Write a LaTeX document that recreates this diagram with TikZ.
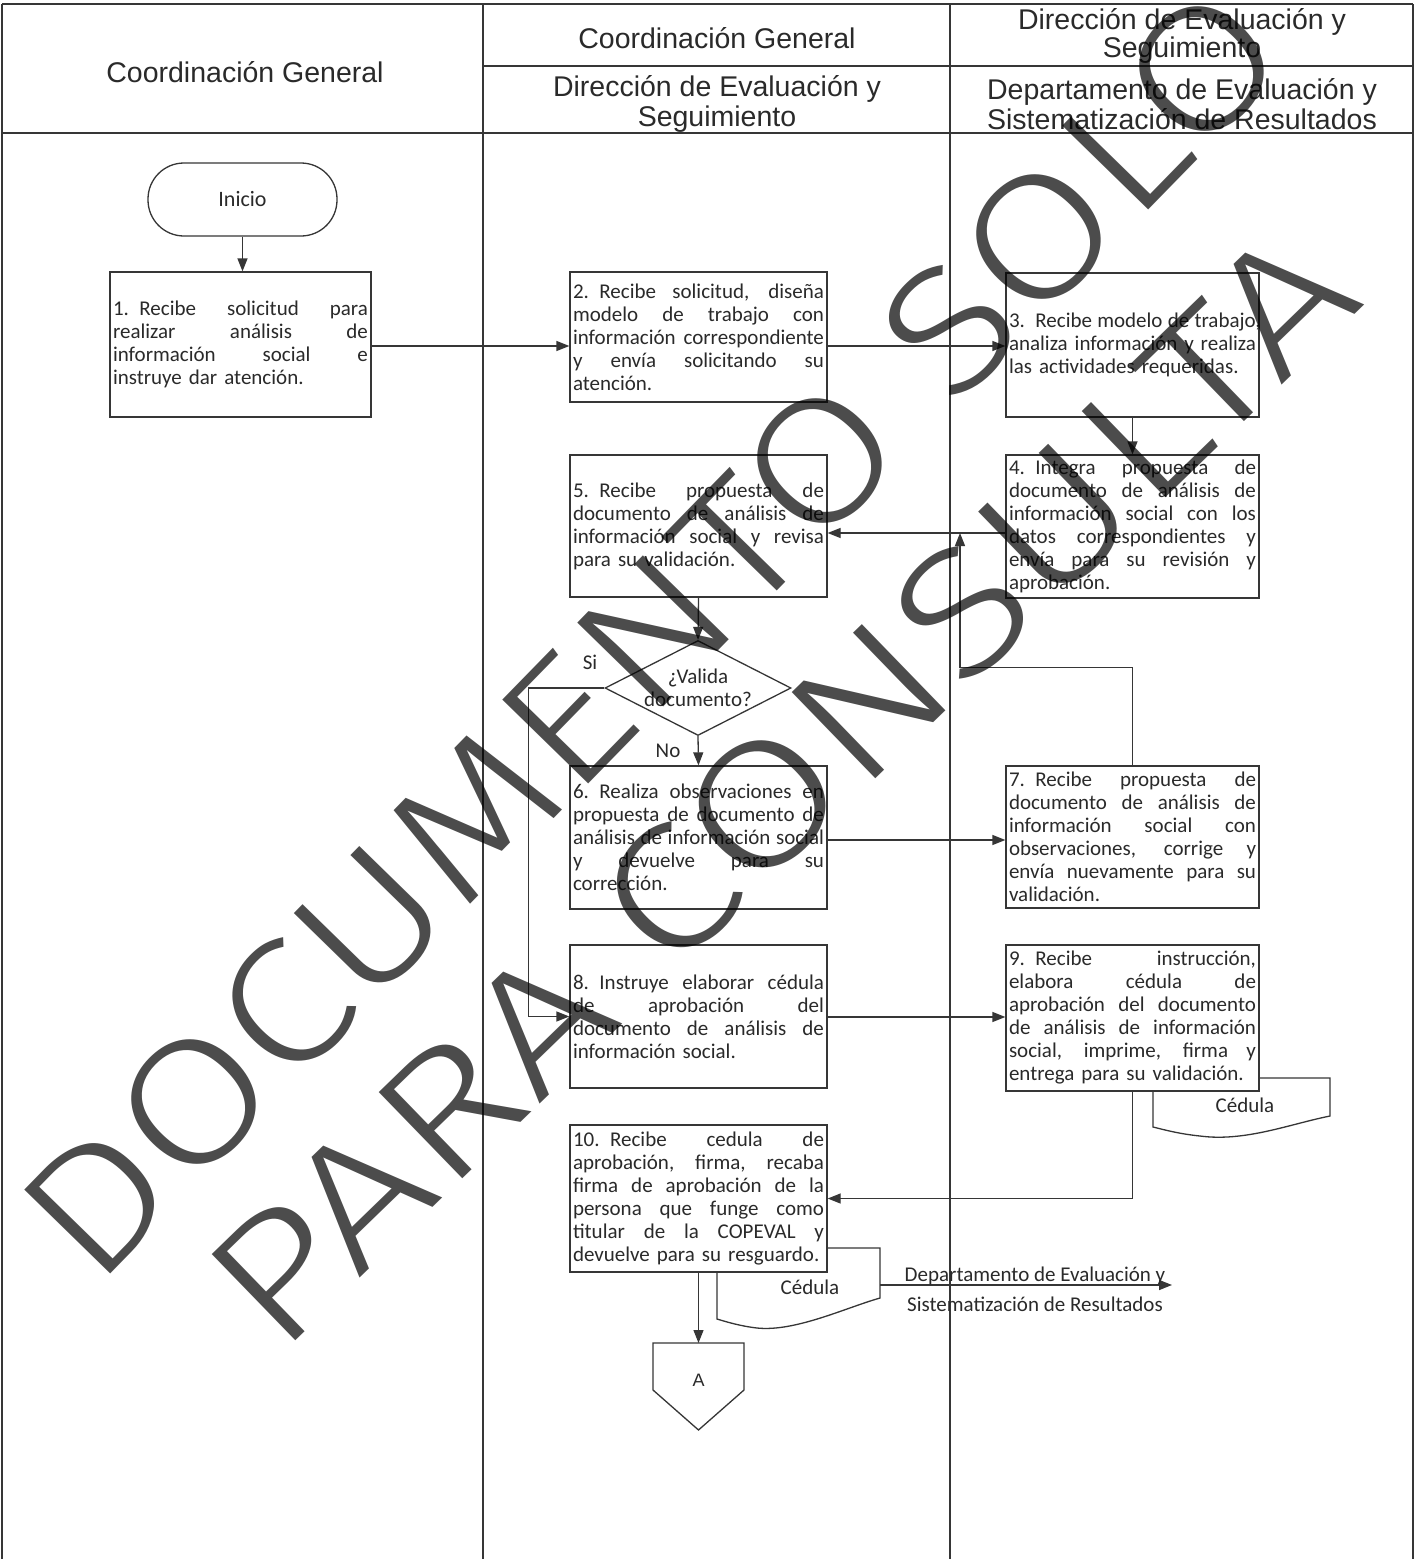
\documentclass[tikz,border=0pt]{standalone}
\usepackage{graphicx}
\usepackage{fontspec}
\setmainfont{Carlito}
\newfontfamily\hdrfont{Liberation Sans}
\newfontfamily\wmfont{Fira Sans Light}
\usetikzlibrary{arrows.meta,shapes.geometric,calc}
\definecolor{ink}{HTML}{363636}
\definecolor{txt}{HTML}{2A2A2A}
\newcommand\jl[1]{\hbox to \linewidth{\spaceskip=0.25em plus 1fil\relax #1}\penalty-10000\relax}
\newcommand\lastl[1]{\hbox to \linewidth{#1\hfil}}
\begin{document}
\begin{tikzpicture}[x=1pt,y=-1pt,
  box/.style={draw=ink, line width=1.3pt, fill=white, text=txt,
    font=\fontsize{21}{23}\selectfont,
    inner xsep=3pt, inner ysep=1pt, anchor=center},
  arr/.style={draw=ink, line width=1.3pt, -{Triangle[length=13pt,width=10pt]}},
  ln/.style={draw=ink, line width=1.3pt},
  lane/.style={draw=ink, line width=1.2pt},
  hdr/.style={text=txt, font=\hdrfont\fontsize{28.5}{30}\selectfont, align=center, inner sep=0pt},
  lbl/.style={text=txt, font=\fontsize{21}{23}\selectfont, inner sep=0pt},
  wm/.style={text=black, text opacity=0.7, font=\wmfont\fontsize{200}{200}\selectfont, inner sep=0pt},
]
\fill[white] (0,0) rectangle (1416,1559);
\useasboundingbox (0,0) rectangle (1416,1559);

% lanes and header
\draw[lane] (2,4) -- (1413,4);
\draw[lane] (2,4) -- (2,1559);
\draw[lane] (1413,4) -- (1413,1559);
\draw[lane] (483,4) -- (483,1559);
\draw[lane] (950,4) -- (950,1559);
\draw[lane] (483,66) -- (1413,66);
\draw[lane, line width=2pt] (2,133) -- (1413,133);

\node[hdr] (h1) at (245,72) {Coordinación General};
\node[hdr] (h2a) at (717,38) {Coordinación General};
\node[hdr] (h2b) at (717,104) {Dirección de Evaluación y\\Seguimiento};
\node[hdr, font=\hdrfont\fontsize{28.5}{28}\selectfont] (h3a) at (1182,36) {Dirección de Evaluación y\\Seguimiento};
\node[hdr] (h3b) at (1182,104) {Departamento de Evaluación y\\Sistematización de Resultados};

% documents (behind boxes)
\draw[ln, fill=white] (1153,1078) -- (1330,1078) -- (1330,1116)
  .. controls (1290,1124) and (1245,1142) .. (1200,1136)
  .. controls (1180,1134) and (1165,1130) .. (1153,1127) -- cycle;
\node[lbl] (ced9) at (1245,1105) {Cédula};
\draw[ln, fill=white] (717,1248) -- (880,1248) -- (880,1298)
  .. controls (845,1308) and (795,1332) .. (757,1328)
  .. controls (740,1326) and (727,1322) .. (717,1319) -- cycle;
\node[lbl] (ced10) at (810,1287) {Cédula};

% start
\node[draw=ink, line width=1.3pt, fill=white, rounded corners=36pt, minimum width=189pt,
  minimum height=73pt, text=txt, font=\fontsize{22}{24}\selectfont] (ini) at (242.5,199.5) {Inicio};

% boxes
\node[box, text width=255pt, minimum height=145pt] (b1) at (240.5,344.5)
 {\jl{1. Recibe solicitud para}\jl{realizar análisis de}\jl{información social e}\lastl{instruye dar atención.}};
\node[box, text width=251pt, minimum height=130pt] (b2) at (698.5,337)
 {\jl{2. Recibe solicitud, diseña}\jl{modelo de trabajo con}\jl{información correspondiente}\jl{y envía solicitando su}\lastl{atención.}};
\node[box, text width=247pt, minimum height=144pt] (b3) at (1132.5,345)
 {\jl{3. Recibe modelo de trabajo,}\jl{analiza información y realiza}\lastl{las actividades requeridas.}};
\node[box, text width=247pt, minimum height=143pt] (b4) at (1132.5,526.5)
 {\jl{4. Integra propuesta de}\jl{documento de análisis de}\jl{información social con los}\jl{datos correspondientes y}\jl{envía para su revisión y}\lastl{aprobación.}};
\node[box, text width=251pt, minimum height=142pt] (b5) at (698.5,526)
 {\jl{5. Recibe propuesta de}\jl{documento de análisis de}\jl{información social y revisa}\lastl{para su validación.}};
\node[draw=ink, line width=1.3pt, fill=white, diamond, minimum width=186pt, minimum height=95pt, inner sep=0pt] (dia) at (698,688) {};
\node[lbl, align=center] (diat) at (dia.center) {¿Valida\\documento?};
\node[lbl] (si) at (590,662) {Si};
\node[lbl] (no) at (668,751) {No};
\node[box, text width=251pt, minimum height=143pt] (b6) at (698.5,837.5)
 {\jl{6. Realiza observaciones en}\jl{propuesta de documento de}\jl{análisis de información social}\jl{y devuelve para su}\lastl{corrección.}};
\node[box, text width=247pt, minimum height=142pt] (b7) at (1132.5,837)
 {\jl{7. Recibe propuesta de}\jl{documento de análisis de}\jl{información social con}\jl{observaciones, corrige y}\jl{envía nuevamente para su}\lastl{validación.}};
\node[box, text width=251pt, minimum height=143pt] (b8) at (698.5,1016.5)
 {\jl{8. Instruye elaborar cédula}\jl{de aprobación del}\jl{documento de análisis de}\lastl{información social.}};
\node[box, text width=247pt, minimum height=146pt] (b9) at (1132.5,1018)
 {\jl{9. Recibe instrucción,}\jl{elabora cédula de}\jl{aprobación del documento}\jl{de análisis de información}\jl{social, imprime, firma y}\lastl{entrega para su validación.}};
\node[box, text width=251pt, minimum height=147pt] (b10) at (698.5,1198.5)
 {\jl{10. Recibe cedula de}\jl{aprobación, firma, recaba}\jl{firma de aprobación de la}\jl{persona que funge como}\jl{titular de la COPEVAL y}\lastl{devuelve para su resguardo.}};

% off-page connector A
\draw[ln, fill=white] (653,1343) -- (744,1343) -- (744,1390) -- (698.5,1430) -- (653,1390) -- cycle;
\node[text=txt, font=\hdrfont\fontsize{18}{20}\selectfont] (conA) at (698.5,1380) {A};
\coordinate (atop) at (698.5,1343);

% coordinates
\coordinate (jn) at (960,533);
\coordinate (d10r) at (880,1285);
\coordinate (dest) at (1172,1285);

% connectors
\draw[arr] (ini.south) -- (ini.south |- b1.north);
\draw[arr] (b1.east |- 0,346) -- (b2.west |- 0,346);
\draw[arr] (b2.east |- 0,346) -- (b3.west |- 0,346);
\draw[arr] (b3.south) -- (b4.north);
\draw[arr] (b4.west |- 0,533) -- (b5.east |- 0,533);
\draw[arr] (b5.south) -- (dia.north);
\draw[arr] (dia.south) -- (b6.north);
\draw[arr] (dia.west) -- ++(-76,0) |- (b8.west);
\draw[arr] (b6.east |- 0,840) -- (b7.west |- 0,840);
\draw[arr] (b7.north) -- ++(0,-98) -| (jn);
\draw[arr] (b8.east |- 0,1017) -- (b9.west |- 0,1017);
\draw[arr] (b9.south) |- (b10.east);
\draw[arr] (b10.south) -- (atop);
\draw[arr] (d10r) -- (dest);
\node[lbl, anchor=base] (dst1) at (1035,1281) {Departamento de Evaluación y};
\node[lbl, anchor=base] (dst2) at (1035,1311) {Sistematización de Resultados};

% watermark
\node[wm, rotate=45.7] (wm1) at (652,633) {\resizebox{1719pt}{122pt}{DOCUMENTO SOLO}};
\node[wm, rotate=44.1] (wm2) at (781,787) {\resizebox{1517pt}{122pt}{PARA CONSULTA}};
\end{tikzpicture}
\end{document}
